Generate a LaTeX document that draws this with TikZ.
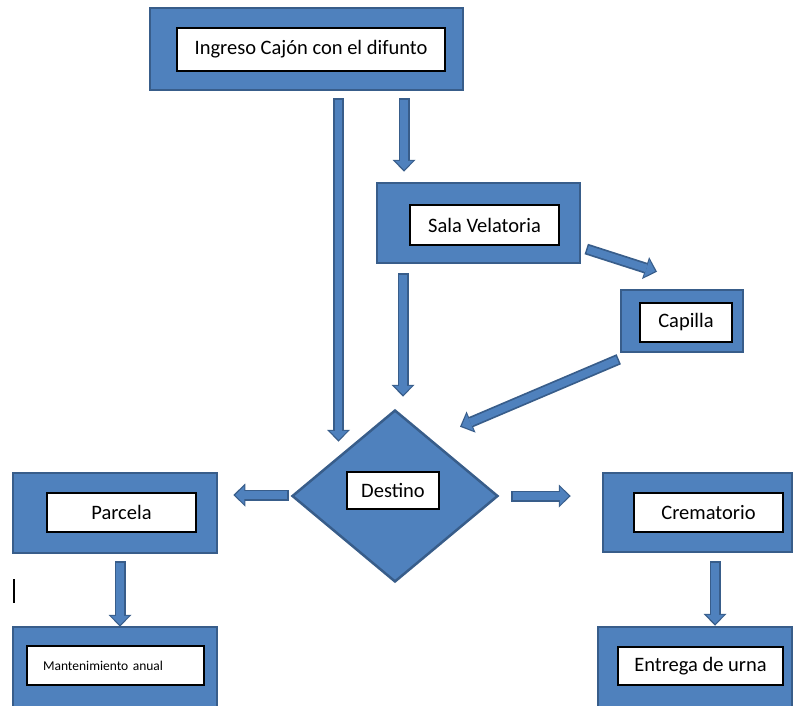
\documentclass[tikz,border=0pt]{standalone}
\usepackage{fontspec}
\setmainfont{Carlito}
\usetikzlibrary{shapes.geometric,arrows.meta,positioning,calc}
\definecolor{AZ}{HTML}{4F81BD}
\definecolor{AZO}{HTML}{385D8A}

\tikzset{
  caja/.style={draw=AZO, fill=AZ, line width=2.5pt, inner sep=0pt},
  etiqueta/.style={draw=black, fill=white, line width=1.3pt, inner sep=0pt,
                   font=\fontsize{20.5}{24}\selectfont},
  flechafondo/.style={draw=AZO, line width=11pt,
                      -{Triangle[width=23pt,length=12pt,line width=0pt]}},
  flechafrente/.style={draw=AZ, line width=7.5pt, shorten >=2pt, shorten <=1.5pt,
                       -{Triangle[width=18pt,length=9pt,line width=0pt]}}
}
\newcommand{\flecha}[2]{%
  \draw[flechafondo] #1 -- #2;
  \draw[flechafrente] #1 -- #2;}

\begin{document}
\begin{tikzpicture}[x=1pt,y=-1pt]
  \useasboundingbox (0,0) rectangle (795,706);

  % cajas azules
  \node[caja, minimum width=313pt, minimum height=82pt] (ingreso) at (306.5,49) {};
  \node[caja, minimum width=203pt, minimum height=80pt] (sala) at (478.5,223) {};
  \node[caja, minimum width=122pt, minimum height=62pt] (capilla) at (682,321) {};
  \node[caja, diamond, minimum width=206pt, minimum height=172pt] (destino) at (395,496) {};
  \node[caja, minimum width=204pt, minimum height=80pt] (parcela) at (115,513) {};
  \node[caja, minimum width=204pt, minimum height=80pt] (mant) at (115,667) {};
  \node[caja, minimum width=189pt, minimum height=79pt] (crema) at (697.5,512.5) {};
  \node[caja, minimum width=194pt, minimum height=80pt] (entrega) at (695,667) {};

  % textos
  \node[etiqueta, minimum width=268pt, minimum height=43pt] (tingreso) at (311,49.5) {Ingreso Cajón con el difunto};
  \node[etiqueta, minimum width=149pt, minimum height=40pt] (tsala) at (484.5,225) {Sala Velatoria};
  \node[etiqueta, minimum width=92pt, minimum height=39pt] (tcapilla) at (686,322.5) {Capilla};
  \node[etiqueta, minimum width=92pt, minimum height=37pt] (tdestino) at (393,490.5) {Destino};
  \node[etiqueta, minimum width=149pt, minimum height=39pt] (tparcela) at (121.5,512.5) {Parcela};
  \node[etiqueta, minimum height=39pt, text width=145pt, inner xsep=16pt, align=left,
        font=\fontsize{13.5}{16}\selectfont] (tmant) at (115.5,665.5) {Mantenimiento anual};
  \node[etiqueta, minimum width=149pt, minimum height=39pt] (tcrema) at (708.5,512.5) {Crematorio};
  \node[etiqueta, minimum width=165pt, minimum height=38pt] (tentrega) at (700.5,666) {Entrega de urna};

  % flechas
  \flecha{([xshift=32pt,yshift=-7pt]ingreso.south)}{([xshift=-56.5pt,yshift=-33pt]destino.north)}
  \flecha{([xshift=97.5pt,yshift=-7pt]ingreso.south)}{([xshift=-74.5pt,yshift=10pt]sala.north)}
  \flecha{([xshift=-75.5pt,yshift=-9pt]sala.south)}{([xshift=8pt,yshift=12pt]destino.north)}
  \flecha{([xshift=5pt,yshift=-26pt]sala.east)}{([xshift=-25pt,yshift=17pt]capilla.north)}
  \flecha{([xshift=-1pt,yshift=-6pt]capilla.south west)}{([xshift=65pt,yshift=-18pt]destino.north)}
  \flecha{([xshift=-2pt,yshift=1pt]destino.west)}{([xshift=15pt,yshift=18pt]parcela.east)}
  \flecha{([xshift=12pt]destino.east)}{([xshift=-31pt,yshift=16.5pt]crema.west)}
  \flecha{([xshift=5pt,yshift=-7pt]parcela.south)}{([xshift=5pt,yshift=-1pt]mant.north)}
  \flecha{([xshift=17.5pt,yshift=-8pt]crema.south)}{([xshift=20pt]entrega.north)}

  % cursor
  \draw[line width=2.5pt] (14,579) -- (14,603);
\end{tikzpicture}
\end{document}
